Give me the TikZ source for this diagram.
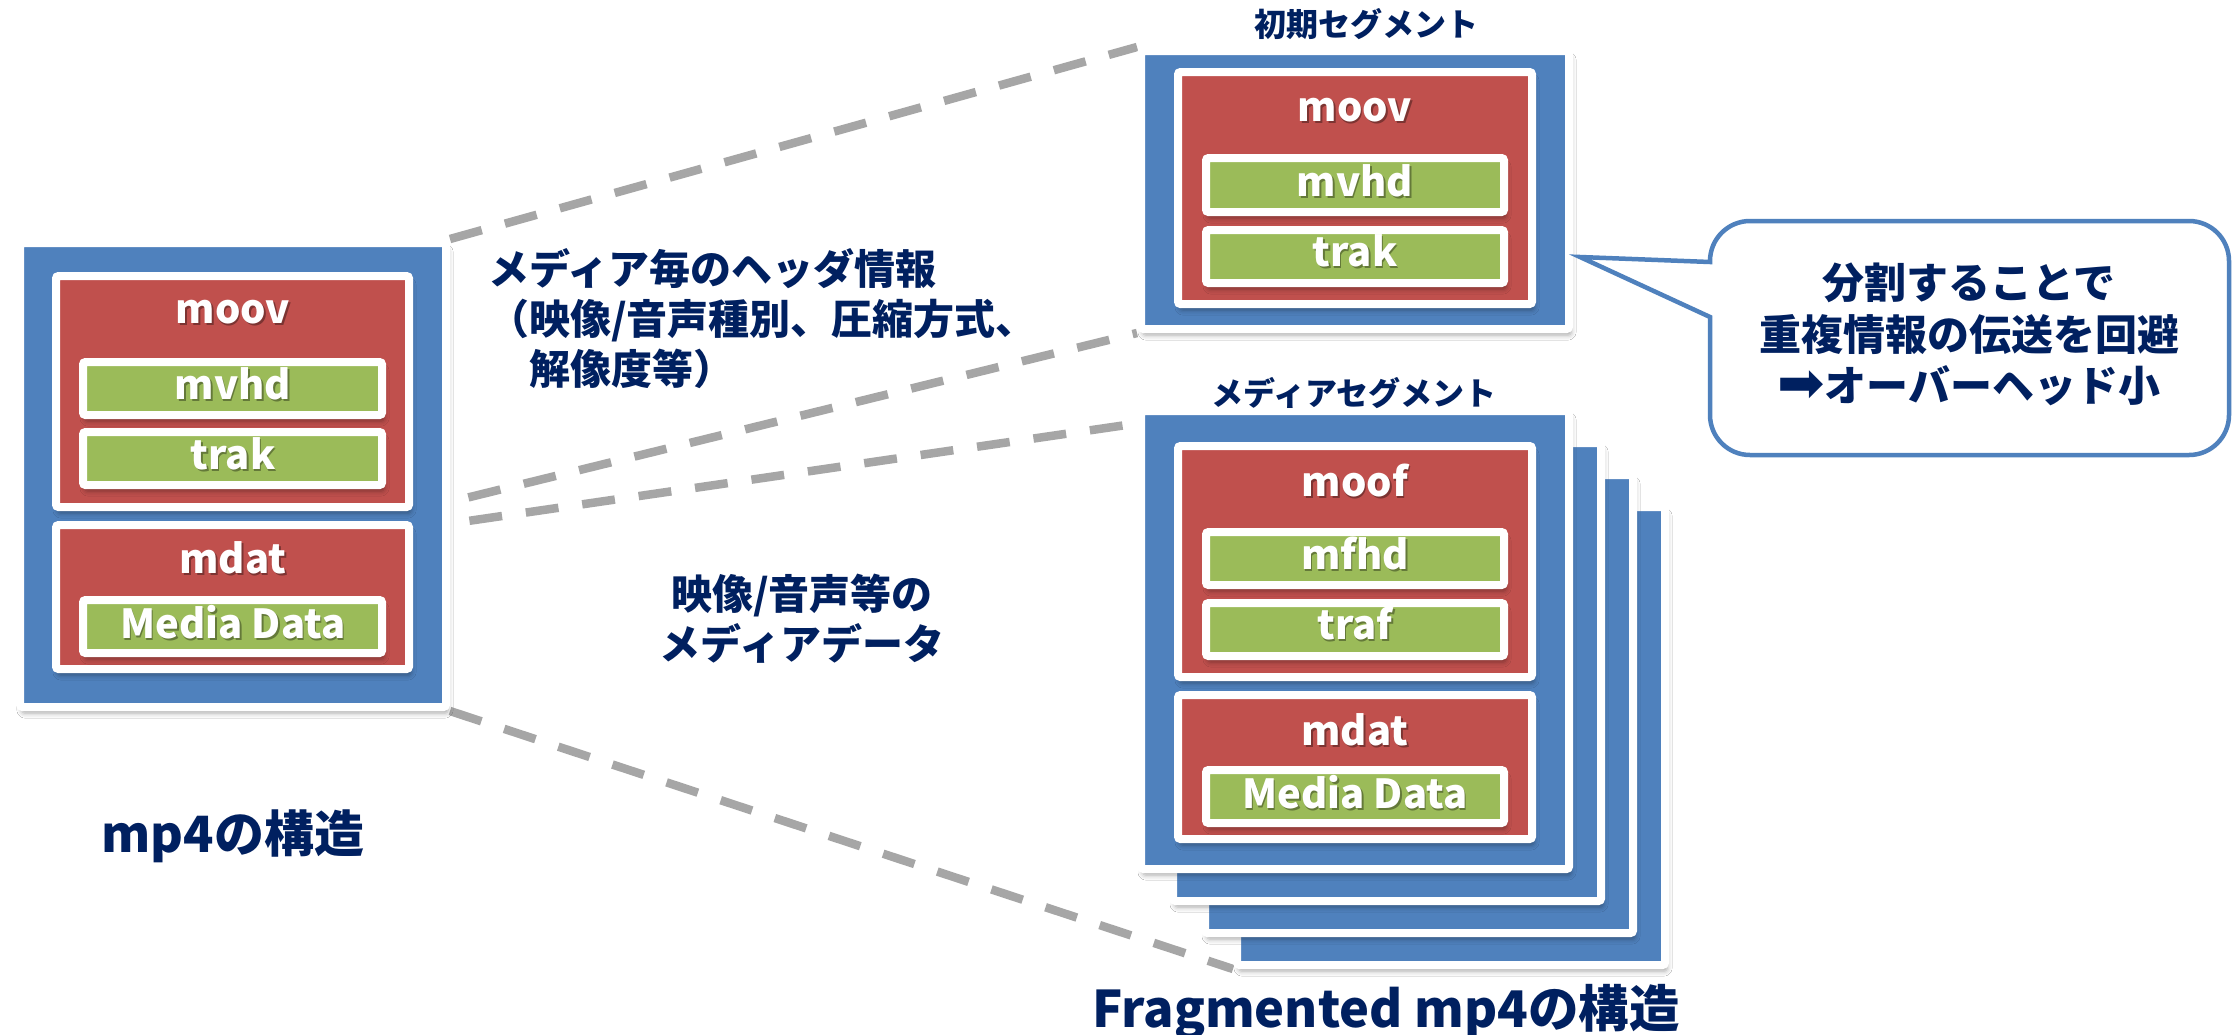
\documentclass[tikz,border=0pt]{standalone}
\usepackage{fontspec}
\setmainfont{Noto Sans CJK JP}
\newfontfamily\arrowfont{DejaVu Sans}
\usetikzlibrary{shadows.blur,calc}
\pgfdeclarelayer{back}
\pgfsetlayers{back,main}

\definecolor{boxblue}{HTML}{4F81BD}
\definecolor{boxred}{HTML}{C0504D}
\definecolor{boxgreen}{HTML}{9BBB59}
\definecolor{navy}{HTML}{002060}
\definecolor{dashgray}{HTML}{A6A6A6}

\tikzset{
  boxframe/.style={draw=white, line width=8pt, rounded corners=2.5pt, inner sep=0pt,
    blur shadow={shadow xshift=2pt, shadow yshift=-6pt, shadow blur radius=5pt, shadow opacity=35}},
  lbl/.style={text=white, inner sep=0pt, font=\bfseries\fontsize{40}{48}\selectfont},
  lblshade/.style={text=black, opacity=0.35, inner sep=0pt, font=\bfseries\fontsize{40}{48}\selectfont},
  note/.style={text=navy, inner sep=0pt, font=\bfseries\fontsize{41}{50}\selectfont},
  calltext/.style={text=navy, inner sep=0pt, font=\bfseries\fontsize{42}{52}\selectfont},
  segtitle/.style={text=navy, inner sep=0pt, font=\bfseries\fontsize{32}{38}\selectfont},
  capA/.style={text=navy, inner sep=0pt, font=\bfseries\fontsize{50}{60}\selectfont},
  capB/.style={text=navy, inner sep=0pt, font=\bfseries\fontsize{50.5}{60}\selectfont},
  conn/.style={draw=dashgray, line width=8.5pt, dash pattern=on 33pt off 24pt},
  callout/.style={draw=boxblue, line width=4.5pt, fill=white},
}

% box given by its outer (white) edges: name, colour, x1, y1, x2, y2
\newcommand{\boxat}[6]{%
  \node[boxframe, fill=#2, minimum width={(#5-#3-8)*1pt}, minimum height={(#6-#4-8)*1pt}]
    (#1) at ({(#3+#5)/2},{(#4+#6)/2}) {};}
% white box label with a soft dark shadow: name, x, y, text
\newcommand{\boxlabel}[4]{%
  \node[lblshade] at ({#2+1.5},{#3+2}) {#4};
  \node[lbl] (#1) at (#2,#3) {#4};}

\begin{document}
\begin{tikzpicture}[x=1pt,y=-1pt]
\useasboundingbox (0,0) rectangle (2238,1034);

% plain mp4 file
\boxat{L}{boxblue}{16}{239}{450}{711}
\boxat{Lmoov}{boxred}{52}{272}{413}{511}
\boxat{Lmvhd}{boxgreen}{79}{358}{386}{419}
\boxat{Ltrak}{boxgreen}{79}{428}{386}{489}
\boxat{Lmdat}{boxred}{52}{521}{413}{673}
\boxat{Lmedia}{boxgreen}{79}{596}{386}{657}
\boxlabel{tLmoov}{233}{312}{moov}
\boxlabel{tLmvhd}{233}{384}{mvhd}
\boxlabel{tLtrak}{233}{454}{trak}
\boxlabel{tLmdat}{233}{558}{mdat}
\boxlabel{tLmedia}{233}{622}{Media Data}

% initialisation segment
\boxat{I}{boxblue}{1137}{47}{1573}{333}
\boxat{Imoov}{boxred}{1174}{68}{1536}{308}
\boxat{Imvhd}{boxgreen}{1202}{154}{1508}{216}
\boxat{Itrak}{boxgreen}{1202}{226}{1508}{287}
\boxlabel{tImoov}{1355}{110}{moov}
\boxlabel{tImvhd}{1355}{181}{mvhd}
\boxlabel{tItrak}{1355}{251}{trak}
\node[segtitle, anchor=base] (tInit) at (1366,36) {初期セグメント};

% stack of media segments, back to front
\boxat{M3}{boxblue}{1233}{503}{1669}{969}
\boxat{M2}{boxblue}{1201}{471}{1637}{937}
\boxat{M1}{boxblue}{1169}{439}{1605}{905}
\boxat{M}{boxblue}{1137}{407}{1573}{873}
\boxat{Mmoof}{boxred}{1174}{442}{1536}{681}
\boxat{Mmfhd}{boxgreen}{1202}{528}{1508}{589}
\boxat{Mtraf}{boxgreen}{1202}{599}{1508}{660}
\boxat{Mmdat}{boxred}{1174}{691}{1536}{843}
\boxat{Mmedia}{boxgreen}{1202}{766}{1508}{827}
\boxlabel{tMmoof}{1355}{481}{moof}
\boxlabel{tMmfhd}{1355}{554}{mfhd}
\boxlabel{tMtraf}{1355}{624}{traf}
\boxlabel{tMmdat}{1355}{730}{mdat}
\boxlabel{tMmedia}{1355}{792}{Media Data}
\node[segtitle, anchor=base] (tMedia) at (1354,405) {メディアセグメント};

% explanations
\node[note, anchor=base west] (h1) at (488,284) {メディア毎のヘッダ情報};
\node[note, anchor=base west] (h2) at (488,334) {（映像/音声種別、圧縮方式、};
\node[note, anchor=base west] (h3) at (488,384) {　解像度等）};
\node[note, anchor=base] (d1) at (802,609) {映像/音声等の};
\node[note, anchor=base] (d2) at (802,659) {メディアデータ};

% speech bubble
\draw[callout] (1710,262) [rounded corners=40pt] -- (1710,221) -- (2229,221) -- (2229,455)
  -- (1710,455) [sharp corners] -- (1710,317) -- (1580,257) -- cycle;
\node[calltext, anchor=base] (c1) at (1969,298) {分割することで};
\node[calltext, anchor=base] (c2) at (1969,350) {重複情報の伝送を回避};
\node[calltext, anchor=base] (c3) at (1969,401) {\raisebox{-1pt}{\scalebox{1.35}{\arrowfont\mdseries ➡}}オーバーヘッド小};

% captions
\node[capA, anchor=base] (capMp4) at (233,852) {mp4の構造};
\node[capB, anchor=base] (capFmp4) at (1386,1027) {Fragmented mp4の構造};

% dashed correspondence lines behind the boxes
\begin{pgfonlayer}{back}
\fill[white] (0,0) rectangle (2238,1034);
\draw[conn] (L.north east) -- (I.north west);
\draw[conn] (Lmoov.south east) -- (I.south west);
\draw[conn] ($(Lmdat.north east)+(0,8)$) -- ($(M.north west)+(3,16)$);
\draw[conn] (L.south east) -- (M3.south west);
\end{pgfonlayer}
\end{tikzpicture}
\end{document}
